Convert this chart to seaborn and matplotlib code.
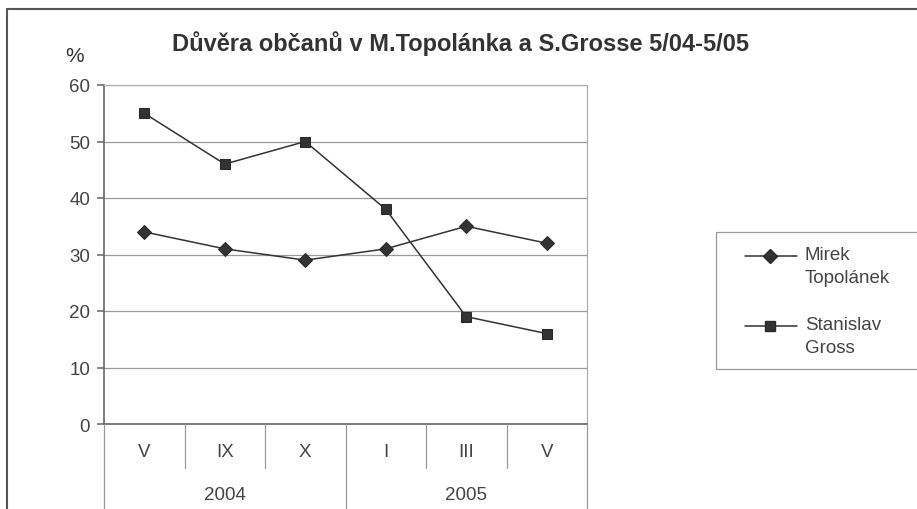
import numpy as np
import pandas as pd
import matplotlib
matplotlib.use("Agg")
import matplotlib.pyplot as plt
import seaborn as sns
from matplotlib.lines import Line2D
from matplotlib.patches import Rectangle

months = ["V", "IX", "X", "I", "III", "V"]
years = ["2004", "2005"]
topolanek = [34, 31, 29, 31, 35, 32]
gross = [55, 46, 50, 38, 19, 16]
series_names = ["Mirek\nTopolánek", "Stanislav\nGross"]

sns.set_theme(style="white")
plt.rcParams["font.family"] = ["Liberation Sans", "DejaVu Sans"]

df = pd.DataFrame({
    "pos": list(range(len(months))) * 2,
    "value": topolanek + gross,
    "series": [series_names[0]] * len(months) + [series_names[1]] * len(months),
})

W, H = 917, 510
fig = plt.figure(figsize=(W / 100, H / 100), dpi=100)
x0, x1, y0, y1 = 104, 587, 86, 425
ax = fig.add_axes([x0 / W, 1 - y1 / H, (x1 - x0) / W, (y1 - y0) / H])

ink = "#333333"
txt = "#444444"
sns.lineplot(data=df, x="pos", y="value", hue="series", style="series",
             palette=[ink, ink], markers=["D", "s"], dashes=False,
             markersize=7, linewidth=1.1, markeredgecolor="#2a2a2a", ax=ax, legend=False)

ax.set_xlim(-0.5, len(months) - 0.5)
ax.set_ylim(0, 60)
ax.set_yticks(range(0, 61, 10))
ax.yaxis.grid(True, color="#9a9a9a", linewidth=0.9)
ax.set_xticks([])
ax.set_xlabel("")
ax.set_ylabel("")
ax.tick_params(axis="y", labelsize=13.5, labelcolor=txt, left=True, length=5,
               color="#777777", pad=5)
for s in ["left", "bottom"]:
    ax.spines[s].set_color("#666666")
    ax.spines[s].set_linewidth(1.2)
for s in ["top", "right"]:
    ax.spines[s].set_color("#b0b0b0")
    ax.spines[s].set_linewidth(0.9)

# multi-level category axis
def fx(px):
    return px / W

def fy(py):
    return 1 - py / H

cw = (x1 - x0) / len(months)
for i, m in enumerate(months):
    fig.text(fx(x0 + cw * (i + 0.5)), fy(453), m, ha="center", va="center",
             fontsize=13.5, color=txt)
for i in range(1, len(months)):
    if i % 3 != 0:
        fig.add_artist(Line2D([fx(x0 + cw * i)] * 2, [fy(y1), fy(469)],
                              color="#999999", linewidth=0.9))
for i in range(0, len(months) + 1, 3):
    fig.add_artist(Line2D([fx(x0 + cw * i)] * 2, [fy(y1), fy(512)],
                          color="#999999", linewidth=0.9))
for j, yr in enumerate(years):
    fig.text(fx(x0 + cw * (3 * j + 1.5)), fy(496), yr, ha="center", va="center",
             fontsize=13.5, color=txt)

fig.text(fx(460), fy(44), "Důvěra občanů v M.Topolánka a S.Grosse 5/04-5/05",
         ha="center", va="center", fontsize=17, fontweight="bold", color=ink)
fig.text(fx(75), fy(57), "%", ha="center", va="center", fontsize=15, color=ink)

# legend box, drawn by hand so the two-line labels sit like the original
fig.add_artist(Rectangle((fx(716), fy(370)), fx(925) - fx(716), fy(233) - fy(370),
                         transform=fig.transFigure, fill=False,
                         edgecolor="#999999", linewidth=0.9))
for k, (name, mk) in enumerate(zip(series_names, ["D", "s"])):
    yk = 257 + 70 * k
    fig.add_artist(Line2D([fx(745), fx(797)], [fy(yk), fy(yk)], color=ink,
                          linewidth=1.1))
    fig.add_artist(Line2D([fx(770)], [fy(yk)], color=ink, marker=mk,
                          markersize=7, markeredgecolor="#2a2a2a"))
    fig.text(fx(805), fy(yk - 10), name, ha="left", va="top", fontsize=13.5,
             color=txt, linespacing=1.45)

# outer chart border
fig.add_artist(Line2D([fx(7), fx(7)], [fy(10), fy(512)], color="#555555", linewidth=1.5))
fig.add_artist(Line2D([fx(7), fx(920)], [fy(10), fy(10)], color="#555555", linewidth=1.5))

fig.savefig("out.png", dpi=100)
